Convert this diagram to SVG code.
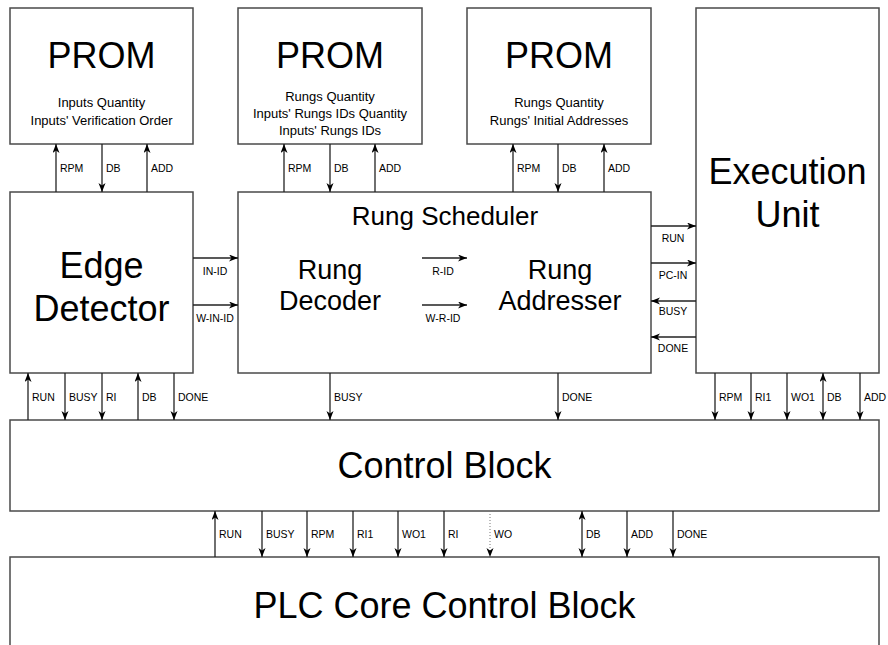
<svg xmlns="http://www.w3.org/2000/svg" width="888" height="645" viewBox="0 0 888 645">
  <style>
    .box { fill: #ffffff; stroke: #4a4a4a; stroke-width: 1.5; }
    .big { font-family: "Liberation Sans", Arial, sans-serif; font-size: 36px; fill: #000; text-anchor: middle; }
    .mid { font-family: "Liberation Sans", Arial, sans-serif; font-size: 27px; fill: #000; text-anchor: middle; }
    .title { font-family: "Liberation Sans", Arial, sans-serif; font-size: 26px; fill: #000; text-anchor: middle; }
    .sub { font-family: "Liberation Sans", Arial, sans-serif; font-size: 13px; fill: #000; text-anchor: middle; }
    .lbl { font-family: "Liberation Sans", Arial, sans-serif; font-size: 10.5px; fill: #000; }
    .lblc { font-family: "Liberation Sans", Arial, sans-serif; font-size: 10.5px; fill: #000; text-anchor: middle; }
    .wire { stroke: #222; stroke-width: 1.3; fill: none; }
    .one { marker-end: url(#head); }
    .two { marker-start: url(#head); marker-end: url(#head); }
    .dot { stroke: #777; stroke-width: 1; stroke-dasharray: 1 2; fill: none; marker-end: url(#head); }
  </style>
  <defs>
    <marker id="head" markerUnits="userSpaceOnUse" markerWidth="10" markerHeight="8" refX="9" refY="3.5" orient="auto-start-reverse">
      <path d="M0,0 L9,3.5 L0,7 L2.5,3.5 z" fill="#000"/>
    </marker>
  </defs>

  <!-- memory blocks -->
  <g id="prom-inputs">
    <rect class="box" x="10" y="8" width="183" height="136"/>
    <text class="big" x="101.5" y="68">PROM</text>
    <text class="sub" x="101.5" y="107">Inputs Quantity</text>
    <text class="sub" x="101.5" y="125">Inputs' Verification Order</text>
  </g>
  <g id="prom-rungs-ids">
    <rect class="box" x="238" y="8" width="184" height="136"/>
    <text class="big" x="330" y="68">PROM</text>
    <text class="sub" x="330" y="101">Rungs Quantity</text>
    <text class="sub" x="330" y="118">Inputs' Rungs IDs Quantity</text>
    <text class="sub" x="330" y="135">Inputs' Rungs IDs</text>
  </g>
  <g id="prom-addresses">
    <rect class="box" x="467" y="8" width="184" height="136"/>
    <text class="big" x="559" y="68">PROM</text>
    <text class="sub" x="559" y="107">Rungs Quantity</text>
    <text class="sub" x="559" y="125">Rungs' Initial Addresses</text>
  </g>

  <!-- processing blocks -->
  <g id="edge-detector">
    <rect class="box" x="10" y="192" width="183" height="181"/>
    <text class="big" x="101.5" y="278">Edge</text>
    <text class="big" x="101.5" y="321">Detector</text>
  </g>
  <g id="rung-scheduler">
    <rect class="box" x="238" y="192" width="413" height="181"/>
    <text class="title" x="445" y="225">Rung Scheduler</text>
    <text class="mid" x="330" y="279">Rung</text>
    <text class="mid" x="330" y="310">Decoder</text>
    <text class="mid" x="560" y="279">Rung</text>
    <text class="mid" x="560" y="310">Addresser</text>
  </g>
  <g id="execution-unit">
    <rect class="box" x="696" y="8" width="183" height="365"/>
    <text class="big" x="787.5" y="184">Execution</text>
    <text class="big" x="787.5" y="227">Unit</text>
  </g>
  <g id="control-block">
    <rect class="box" x="10" y="420" width="869" height="91"/>
    <text class="big" x="444.5" y="478">Control Block</text>
  </g>
  <g id="plc-core-control-block">
    <rect class="box" x="10" y="557" width="869" height="100"/>
    <text class="big" x="444.5" y="618">PLC Core Control Block</text>
  </g>

  <!-- signals -->
  <g id="connectors">
    <!-- PROM / Edge Detector -->
    <line class="wire one" x1="56" y1="192" x2="56" y2="144"/>
    <line class="wire one" x1="102" y1="144" x2="102" y2="192"/>
    <line class="wire one" x1="147" y1="192" x2="147" y2="144"/>
    <text class="lbl" x="60" y="172">RPM</text>
    <text class="lbl" x="106" y="172">DB</text>
    <text class="lbl" x="151" y="172">ADD</text>

    <!-- PROM / Rung Scheduler -->
    <line class="wire one" x1="284" y1="192" x2="284" y2="144"/>
    <line class="wire one" x1="330" y1="144" x2="330" y2="192"/>
    <line class="wire one" x1="375" y1="192" x2="375" y2="144"/>
    <text class="lbl" x="288" y="172">RPM</text>
    <text class="lbl" x="334" y="172">DB</text>
    <text class="lbl" x="379" y="172">ADD</text>

    <!-- PROM / Rung Addresser -->
    <line class="wire one" x1="513" y1="192" x2="513" y2="144"/>
    <line class="wire one" x1="558" y1="144" x2="558" y2="192"/>
    <line class="wire one" x1="604" y1="192" x2="604" y2="144"/>
    <text class="lbl" x="517" y="172">RPM</text>
    <text class="lbl" x="562" y="172">DB</text>
    <text class="lbl" x="608" y="172">ADD</text>

    <!-- Edge Detector / Rung Scheduler -->
    <line class="wire one" x1="193" y1="258" x2="238" y2="258"/>
    <line class="wire one" x1="193" y1="305" x2="238" y2="305"/>
    <text class="lblc" x="215" y="275">IN-ID</text>
    <text class="lblc" x="215" y="322">W-IN-ID</text>

    <!-- Rung Decoder / Rung Addresser -->
    <line class="wire one" x1="422" y1="258" x2="467" y2="258"/>
    <line class="wire one" x1="422" y1="305" x2="467" y2="305"/>
    <text class="lblc" x="443" y="275">R-ID</text>
    <text class="lblc" x="443" y="322">W-R-ID</text>

    <!-- Rung Scheduler / Execution Unit -->
    <line class="wire one" x1="651" y1="226" x2="696" y2="226"/>
    <line class="wire one" x1="651" y1="263" x2="696" y2="263"/>
    <line class="wire one" x1="696" y1="301" x2="651" y2="301"/>
    <line class="wire one" x1="696" y1="337" x2="651" y2="337"/>
    <text class="lblc" x="673" y="242">RUN</text>
    <text class="lblc" x="673" y="279">PC-IN</text>
    <text class="lblc" x="673" y="315">BUSY</text>
    <text class="lblc" x="673" y="352">DONE</text>

    <!-- Edge Detector / Control Block -->
    <line class="wire one" x1="28" y1="420" x2="28" y2="373"/>
    <line class="wire one" x1="65" y1="373" x2="65" y2="420"/>
    <line class="wire one" x1="102" y1="373" x2="102" y2="420"/>
    <line class="wire one" x1="138" y1="420" x2="138" y2="373"/>
    <line class="wire one" x1="174" y1="373" x2="174" y2="420"/>
    <text class="lbl" x="32" y="401">RUN</text>
    <text class="lbl" x="69" y="401">BUSY</text>
    <text class="lbl" x="106" y="401">RI</text>
    <text class="lbl" x="142" y="401">DB</text>
    <text class="lbl" x="178" y="401">DONE</text>

    <!-- Rung Scheduler / Control Block -->
    <line class="wire one" x1="330" y1="373" x2="330" y2="420"/>
    <line class="wire one" x1="558" y1="373" x2="558" y2="420"/>
    <text class="lbl" x="334" y="401">BUSY</text>
    <text class="lbl" x="562" y="401">DONE</text>

    <!-- Execution Unit / Control Block -->
    <line class="wire one" x1="715" y1="373" x2="715" y2="420"/>
    <line class="wire one" x1="751" y1="373" x2="751" y2="420"/>
    <line class="wire one" x1="787" y1="373" x2="787" y2="420"/>
    <line class="wire two" x1="823" y1="373" x2="823" y2="420"/>
    <line class="wire one" x1="860" y1="373" x2="860" y2="420"/>
    <text class="lbl" x="719" y="401">RPM</text>
    <text class="lbl" x="755" y="401">RI1</text>
    <text class="lbl" x="791" y="401">WO1</text>
    <text class="lbl" x="827" y="401">DB</text>
    <text class="lbl" x="864" y="401">ADD</text>

    <!-- Control Block / PLC Core Control Block -->
    <line class="wire one" x1="215" y1="557" x2="215" y2="511"/>
    <line class="wire one" x1="262" y1="511" x2="262" y2="557"/>
    <line class="wire one" x1="307" y1="511" x2="307" y2="557"/>
    <line class="wire one" x1="353" y1="511" x2="353" y2="557"/>
    <line class="wire one" x1="398" y1="511" x2="398" y2="557"/>
    <line class="wire one" x1="444" y1="511" x2="444" y2="557"/>
    <line class="dot" x1="490" y1="511" x2="490" y2="557"/>
    <line class="wire two" x1="582" y1="511" x2="582" y2="557"/>
    <line class="wire one" x1="627" y1="511" x2="627" y2="557"/>
    <line class="wire one" x1="673" y1="511" x2="673" y2="557"/>
    <text class="lbl" x="219" y="538">RUN</text>
    <text class="lbl" x="266" y="538">BUSY</text>
    <text class="lbl" x="311" y="538">RPM</text>
    <text class="lbl" x="357" y="538">RI1</text>
    <text class="lbl" x="402" y="538">WO1</text>
    <text class="lbl" x="448" y="538">RI</text>
    <text class="lbl" x="494" y="538">WO</text>
    <text class="lbl" x="586" y="538">DB</text>
    <text class="lbl" x="631" y="538">ADD</text>
    <text class="lbl" x="677" y="538">DONE</text>
  </g>
</svg>
